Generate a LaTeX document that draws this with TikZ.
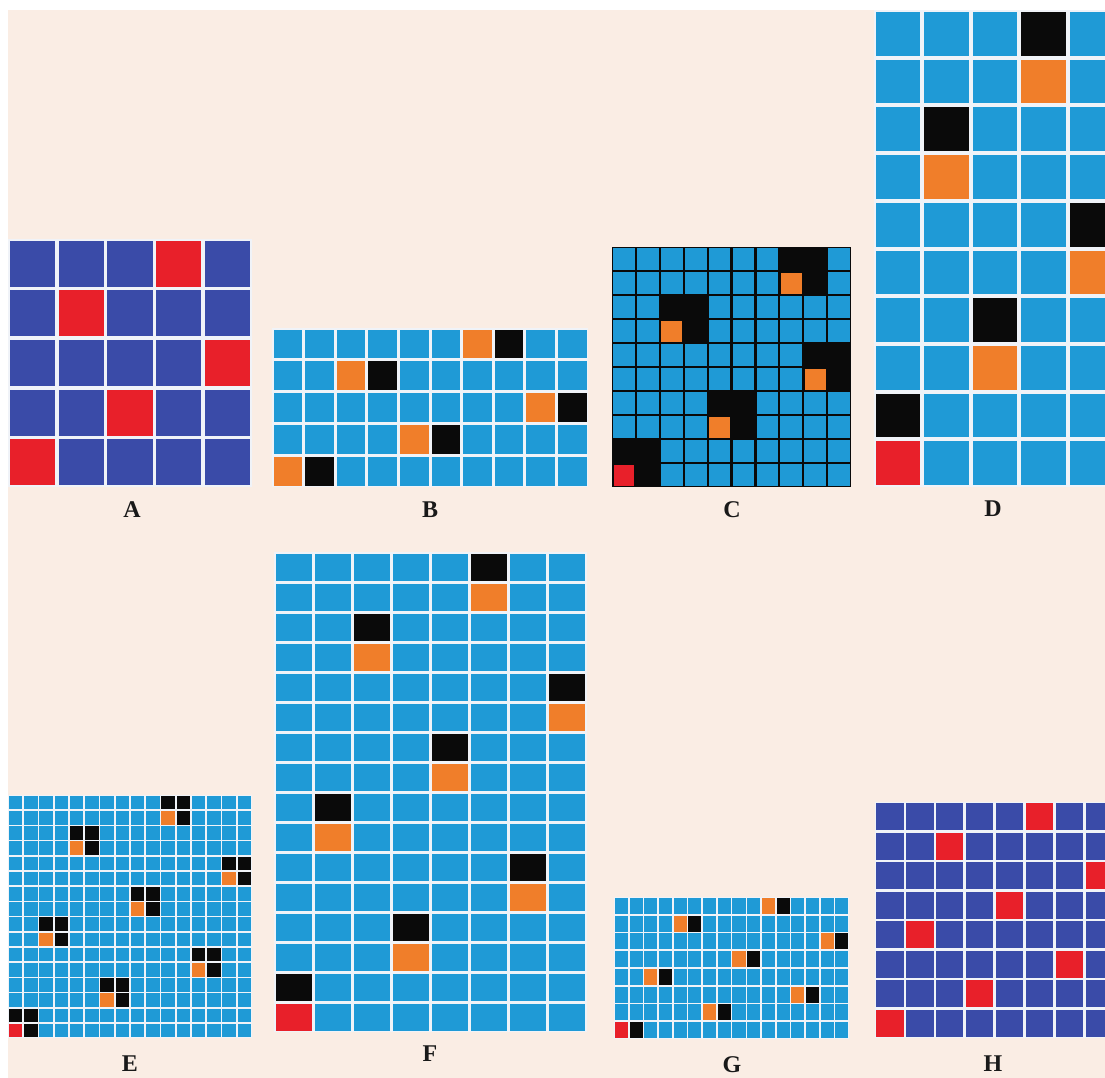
\documentclass[tikz,border=0pt]{standalone}
\usepackage{fontspec}
\setmainfont{Liberation Serif}
\definecolor{peach}{HTML}{FAEDE4}
\definecolor{lblue}{HTML}{1F9AD6}
\definecolor{dblue}{HTML}{3A4BA8}
\definecolor{cred}{HTML}{E8202A}
\definecolor{corange}{HTML}{F07E2A}
\definecolor{cblack}{HTML}{0A0A0A}
\definecolor{gapc}{HTML}{F0F3F8}
% #1 x0, #2 y0, #3 ncols, #4 nrows, #5 cw, #6 ch, #7 gap, #8 cell colour, #9 gap colour
\newcommand\panelgrid[9]{%
  \fill[#9] (#1,#2) rectangle ++({(#3)*(#5)},{(#4)*(#6)});
  \foreach \i in {1,...,#3}{\foreach \j in {1,...,#4}{%
    \fill[#8] ({#1+(\i-1)*(#5)+(#7)/2},{#2+(\j-1)*(#6)+(#7)/2}) rectangle ++({(#5)-(#7)},{(#6)-(#7)});
  }}%
}
% #1 x0, #2 y0, #3 cw, #4 ch, #5 gap, #6 col, #7 row, #8 colour
\newcommand\paintcell[8]{%
  \fill[#8] ({#1+(#6)*(#3)+(#5)/2},{#2+(#7)*(#4)+(#5)/2}) rectangle ++({(#3)-(#5)},{(#4)-(#5)});
}
\tikzset{panellabel/.style={font=\fontsize{24}{24}\selectfont\bfseries, text=black!90, anchor=base, inner sep=0pt}}
\begin{document}
\begin{tikzpicture}[x=1pt,y=-1pt]
\useasboundingbox (0,0) rectangle (1105,1078);
\clip (0,0) rectangle (1105,1078);
\fill[white] (0,0) rectangle (1105,1078);
\fill[peach] (8,10) rectangle (1105,1078);

% ---------- A ----------
\panelgrid{8}{239}{5}{5}{48.8}{49.6}{3.5}{dblue}{gapc}
\foreach \c/\r in {3/0,1/1,4/2,2/3,0/4}{\paintcell{8}{239}{48.8}{49.6}{3.5}{\c}{\r}{cred}}

% ---------- B ----------
\panelgrid{272}{328}{10}{5}{31.6}{31.8}{3}{lblue}{gapc}
\foreach \c/\r in {6/0,2/1,8/2,4/3,0/4}{%
  \paintcell{272}{328}{31.6}{31.8}{3}{\c}{\r}{corange}
  \paintcell{272}{328}{31.6}{31.8}{3}{\c+1}{\r}{cblack}}

% ---------- C ----------
\panelgrid{612}{247}{10}{10}{23.9}{24}{2.2}{lblue}{cblack}
\foreach \c/\r in {7/0,2/2,8/4,4/6,0/8}{%
  \paintcell{612}{247}{23.9}{24}{0}{\c}{\r}{cblack}
  \paintcell{612}{247}{23.9}{24}{0}{\c+1}{\r}{cblack}
  \paintcell{612}{247}{23.9}{24}{0}{\c}{\r+1}{cblack}
  \paintcell{612}{247}{23.9}{24}{0}{\c+1}{\r+1}{cblack}}
\foreach \c/\r in {7/1,2/3,8/5,4/7}{\paintcell{612}{247}{23.9}{24}{3}{\c}{\r}{corange}}
\paintcell{612}{247}{23.9}{24}{3}{0}{9}{cred}

% ---------- D ----------
\panelgrid{874}{10}{5}{10}{48.4}{47.7}{4}{lblue}{gapc}
\foreach \c/\r in {3/0,1/2,4/4,2/6}{%
  \paintcell{874}{10}{48.4}{47.7}{4}{\c}{\r}{cblack}
  \paintcell{874}{10}{48.4}{47.7}{4}{\c}{\r+1}{corange}}
\paintcell{874}{10}{48.4}{47.7}{4}{0}{8}{cblack}
\paintcell{874}{10}{48.4}{47.7}{4}{0}{9}{cred}

% ---------- E ----------
\panelgrid{8}{795}{16}{16}{15.25}{15.2}{1.6}{lblue}{gapc}
\foreach \b/\c in {0/5,1/2,2/7,3/4,4/1,5/6,6/3,7/0}{%
  \paintcell{8}{795}{15.25}{15.2}{1.6}{2*\c}{2*\b}{cblack}
  \paintcell{8}{795}{15.25}{15.2}{1.6}{2*\c+1}{2*\b}{cblack}
  \paintcell{8}{795}{15.25}{15.2}{1.6}{2*\c+1}{2*\b+1}{cblack}
  \paintcell{8}{795}{15.25}{15.2}{1.6}{2*\c}{2*\b+1}{corange}}
\paintcell{8}{795}{15.25}{15.2}{1.6}{0}{15}{cred}

% ---------- F ----------
\panelgrid{274}{552}{8}{16}{39.1}{30}{3}{lblue}{gapc}
\foreach \b/\c in {0/5,1/2,2/7,3/4,4/1,5/6,6/3,7/0}{%
  \paintcell{274}{552}{39.1}{30}{3}{\c}{2*\b}{cblack}
  \paintcell{274}{552}{39.1}{30}{3}{\c}{2*\b+1}{corange}}
\paintcell{274}{552}{39.1}{30}{3}{0}{15}{cred}

% ---------- G ----------
\panelgrid{614}{897}{16}{8}{14.7}{17.75}{1.6}{lblue}{gapc}
\foreach \b/\c in {0/5,1/2,2/7,3/4,4/1,5/6,6/3,7/0}{%
  \paintcell{614}{897}{14.7}{17.75}{1.6}{2*\c}{\b}{corange}
  \paintcell{614}{897}{14.7}{17.75}{1.6}{2*\c+1}{\b}{cblack}}
\paintcell{614}{897}{14.7}{17.75}{1.6}{0}{7}{cred}

% ---------- H ----------
\panelgrid{875}{802}{8}{8}{29.9}{29.5}{2.6}{dblue}{gapc}
\foreach \b/\c in {0/5,1/2,2/7,3/4,4/1,5/6,6/3,7/0}{%
  \paintcell{875}{802}{29.9}{29.5}{2.6}{\c}{\b}{cred}}

% ---------- labels ----------
\node[panellabel] (lA) at (132,517) {A};
\node[panellabel] (lB) at (430,517) {B};
\node[panellabel] (lC) at (732,517) {C};
\node[panellabel] (lD) at (993,516) {D};
\node[panellabel] (lE) at (130,1071) {E};
\node[panellabel] (lF) at (430,1061) {F};
\node[panellabel] (lG) at (732,1072) {G};
\node[panellabel] (lH) at (993,1071) {H};
\end{tikzpicture}
\end{document}
